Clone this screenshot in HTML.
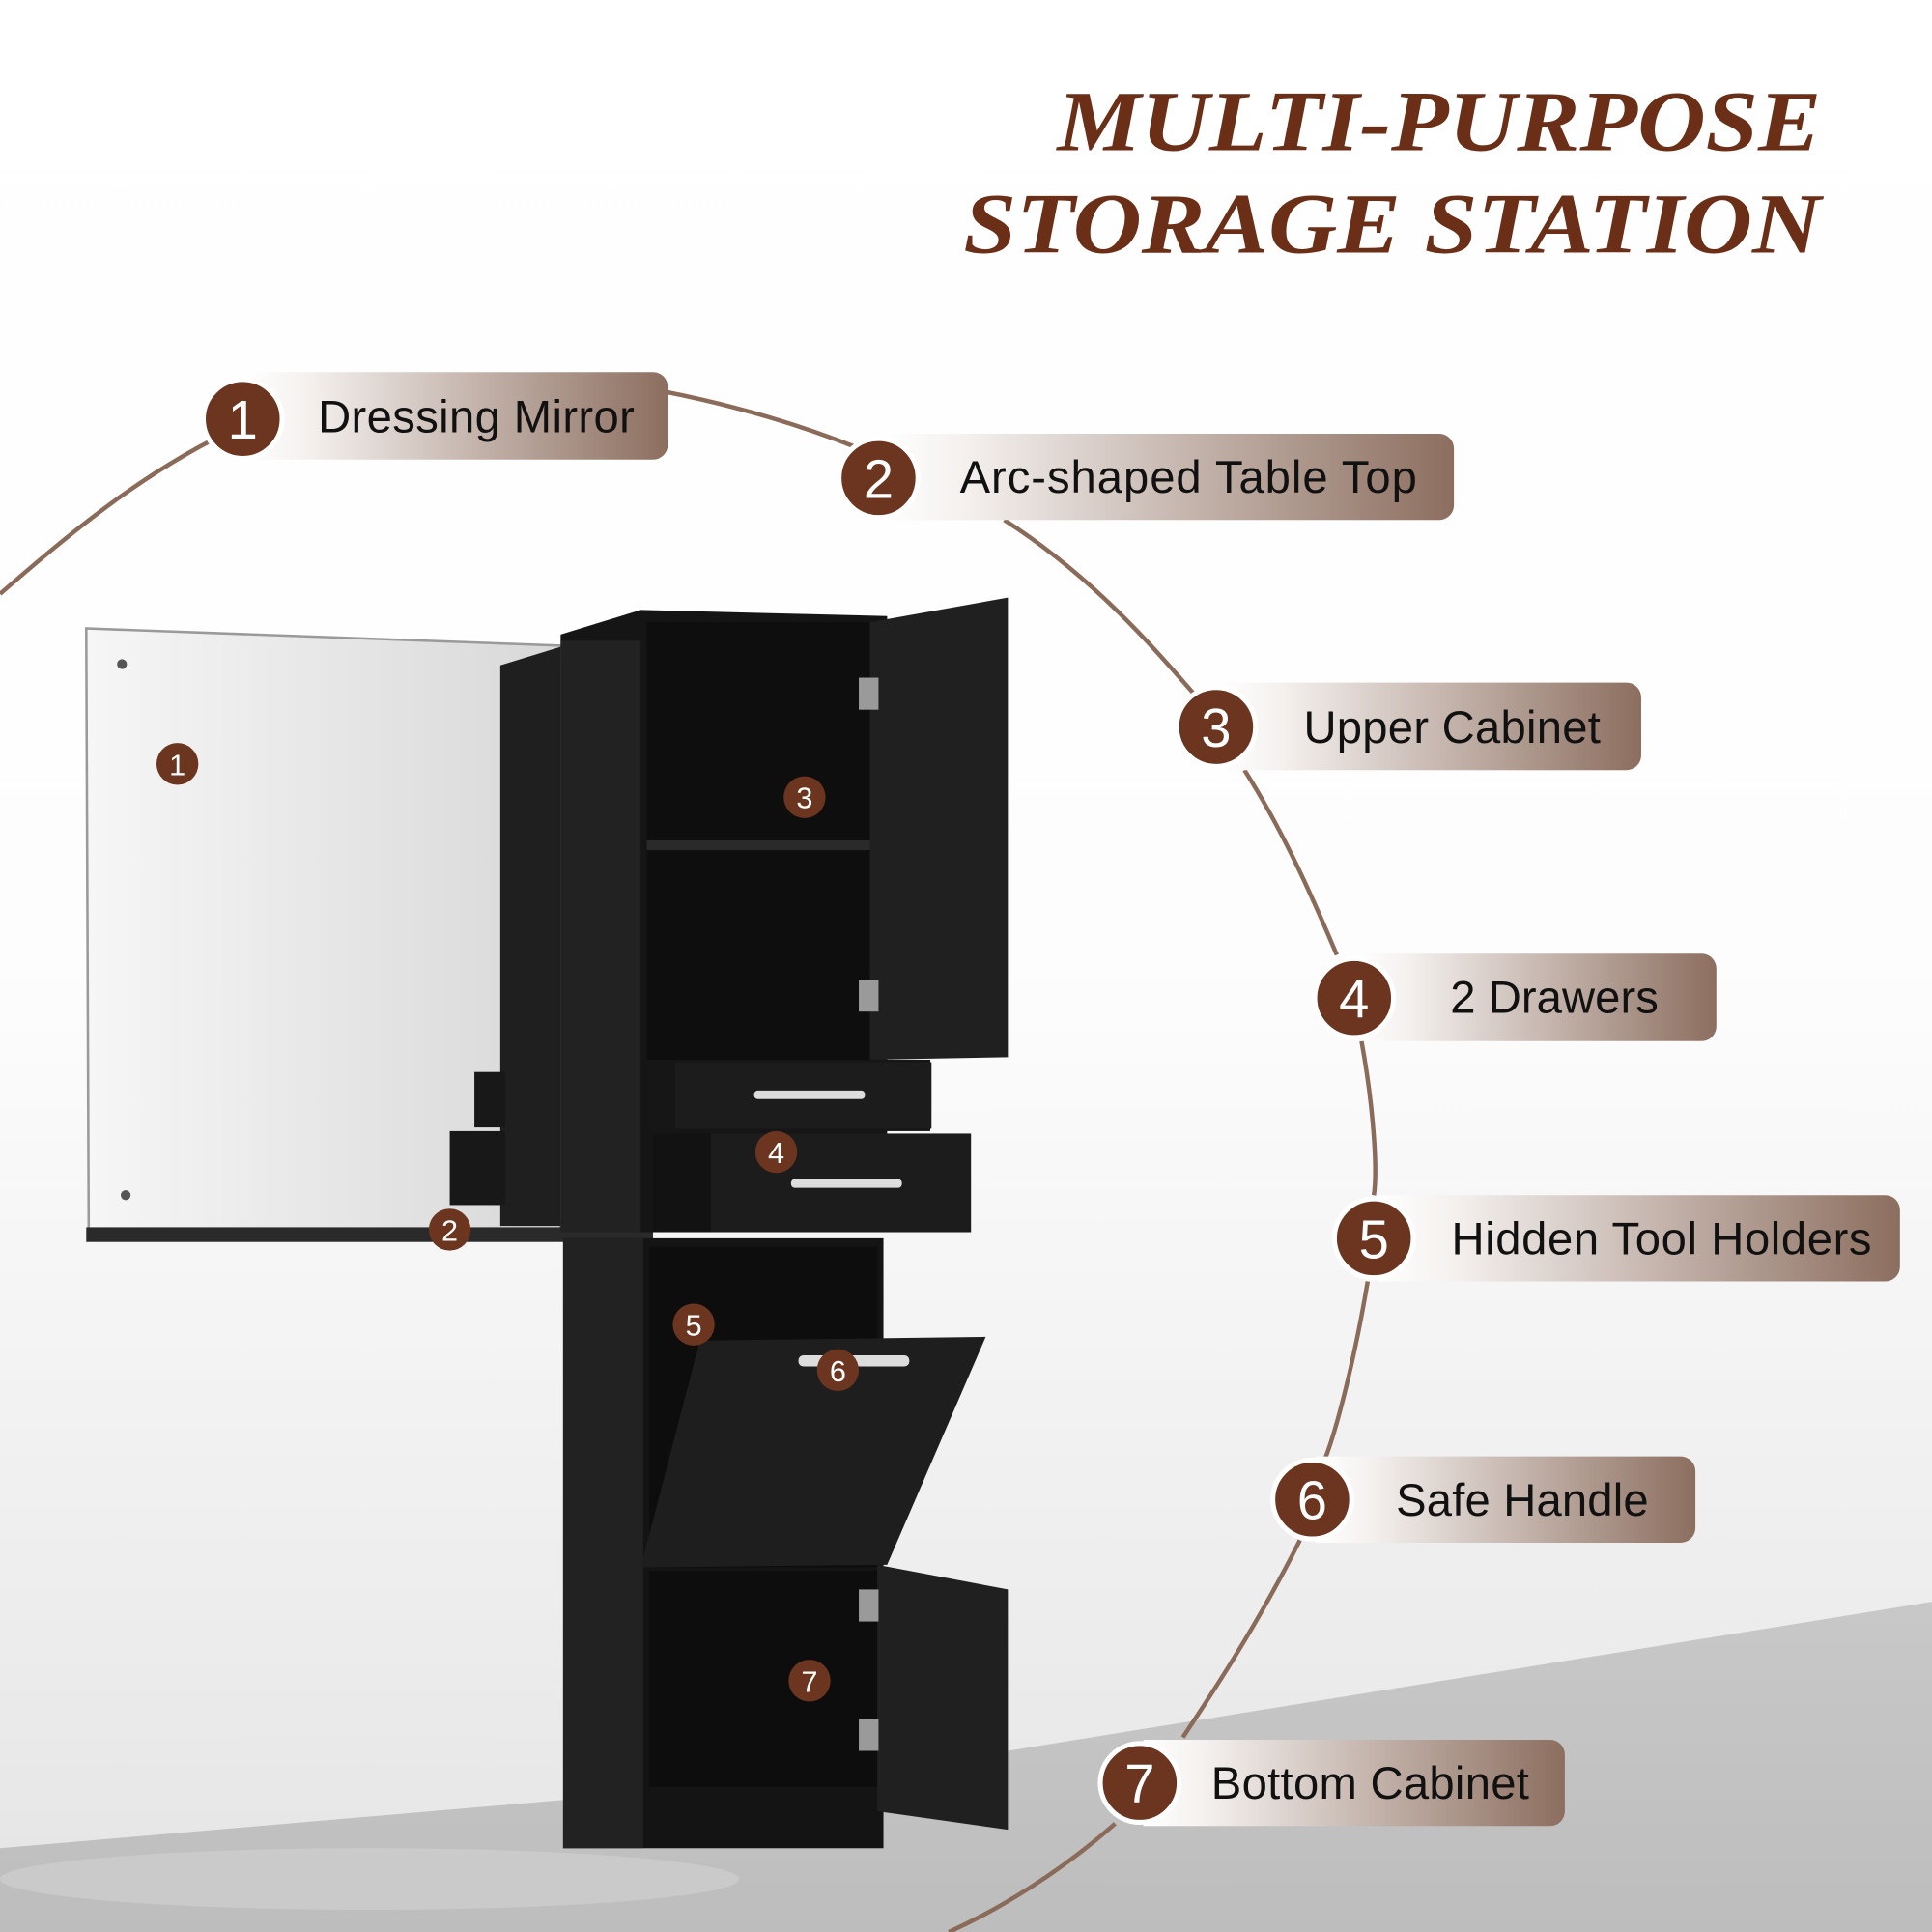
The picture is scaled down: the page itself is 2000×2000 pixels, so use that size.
<!DOCTYPE html>
<html><head><meta charset="utf-8"><style>html,body{margin:0;padding:0;background:#fff}svg{display:block}</style></head>
<body>
<svg width="2000" height="2000" viewBox="0 0 1568 1568" xmlns="http://www.w3.org/2000/svg">
<defs>
<linearGradient id="bg" x1="0" y1="0" x2="0" y2="1">
<stop offset="0" stop-color="#ffffff"/><stop offset="0.5" stop-color="#fdfdfd"/><stop offset="0.85" stop-color="#ececec"/><stop offset="1" stop-color="#e4e4e4"/></linearGradient>
<linearGradient id="pill" x1="0" y1="0" x2="1" y2="0">
<stop offset="0" stop-color="#ffffff"/><stop offset="0.15" stop-color="#f4f0ee"/><stop offset="1" stop-color="#8c6e5f"/></linearGradient>
<linearGradient id="mir" x1="0" y1="0" x2="1" y2="0">
<stop offset="0" stop-color="#f6f6f6"/><stop offset="1" stop-color="#d8d8d8"/></linearGradient>
<linearGradient id="floor" x1="0" y1="0" x2="0" y2="1">
<stop offset="0" stop-color="#c8c8c8"/><stop offset="1" stop-color="#bdbdbd"/></linearGradient>
</defs>
<rect width="1568" height="1568" fill="url(#bg)"/>
<polygon points="1568,1300 1568,1568 0,1568 0,1500 700,1440" fill="url(#floor)"/>
<ellipse cx="300" cy="1525" rx="300" ry="25" fill="#d2d2d2" opacity="0.6"/>

<path d="M0,482 C60,430 120,380 197,345 M540,318 C600,330 650,345 700,365 M815,422 C890,470 940,530 975,570 M1010,625 C1045,680 1070,740 1085,775 M1105,845 C1115,900 1118,950 1115,970 M1110,1040 C1100,1100 1085,1160 1075,1185 M1055,1250 C1020,1320 980,1380 960,1410 M905,1480 C860,1520 810,1550 770,1568" fill="none" stroke="#8a6a58" stroke-width="3.5"/>

<g font-family="'Liberation Serif',serif" font-weight="bold" font-style="italic" font-size="70" fill="#6b2e17">
<text x="858" y="122" textLength="620" lengthAdjust="spacingAndGlyphs">MULTI-PURPOSE</text>
<text x="782" y="205" textLength="696" lengthAdjust="spacingAndGlyphs">STORAGE STATION</text>
</g>

<polygon points="70,510 455,524 455,998 72,1002" fill="url(#mir)" stroke="#9a9a9a" stroke-width="2"/>
<rect x="70" y="996" width="460" height="12" fill="#2a2a2a"/>
<circle cx="99" cy="539" r="4" fill="#555"/><circle cx="102" cy="970" r="4" fill="#555"/>

<polygon points="406,540 455,525 455,995 406,995" fill="#1f1f1f"/>
<polygon points="455,515 520,495 720,500 720,1000 455,1000" fill="#151515"/>
<rect x="455" y="520" width="65" height="480" fill="#222"/>
<rect x="525" y="505" width="185" height="355" fill="#0e0e0e"/>
<rect x="525" y="682" width="185" height="8" fill="#2a2a2a"/>
<polygon points="706,505 818,485 818,858 706,860" fill="#202020"/>
<rect x="697" y="550" width="16" height="26" fill="#9a9a9a"/><rect x="697" y="795" width="16" height="26" fill="#9a9a9a"/>
<rect x="385" y="870" width="25" height="45" fill="#181818"/>
<rect x="365" y="918" width="45" height="60" fill="#181818"/>
<rect x="525" y="860" width="230" height="58" fill="#161616"/>
<rect x="548" y="862" width="208" height="54" fill="#1c1c1c"/>
<rect x="612" y="885" width="90" height="7" rx="3" fill="#ddd"/>
<rect x="530" y="920" width="258" height="80" fill="#121212"/>
<rect x="577" y="920" width="211" height="80" fill="#1c1c1c"/>
<rect x="642" y="957" width="90" height="7" rx="3" fill="#ddd"/>
<rect x="457" y="1005" width="260" height="495" fill="#141414"/>
<rect x="457" y="1005" width="65" height="495" fill="#222"/>
<rect x="527" y="1012" width="185" height="260" fill="#0d0d0d"/>
<polygon points="568,1088 800,1085 720,1270 520,1272" fill="#1e1e1e"/>
<rect x="648" y="1100" width="90" height="9" rx="4" fill="#ddd"/>
<rect x="527" y="1275" width="185" height="175" fill="#0d0d0d"/>
<polygon points="712,1270 818,1290 818,1485 712,1470" fill="#202020"/>
<rect x="697" y="1290" width="16" height="26" fill="#9a9a9a"/><rect x="697" y="1395" width="16" height="26" fill="#9a9a9a"/>

<g fill="#6b3520"><circle cx="144" cy="620" r="17"/><circle cx="365" cy="998" r="17"/><circle cx="653" cy="647" r="17"/><circle cx="630" cy="935" r="17"/><circle cx="563" cy="1075" r="17"/><circle cx="680" cy="1112" r="17"/><circle cx="657" cy="1364" r="17"/></g>
<g font-family="'Liberation Sans',sans-serif" font-size="24" fill="#fff" text-anchor="middle">
<text x="144" y="629">1</text><text x="365" y="1007">2</text><text x="653" y="656">3</text><text x="630" y="944">4</text><text x="563" y="1084">5</text><text x="680" y="1121">6</text><text x="657" y="1373">7</text></g>

<g font-family="'Liberation Sans',sans-serif" font-size="37" fill="#111">
<path d="M200,302 H530 a12,12 0 0 1 12,12 V361 a12,12 0 0 1 -12,12 H200 Z" fill="url(#pill)"/>
<path d="M715,352 H1168 a12,12 0 0 1 12,12 V410 a12,12 0 0 1 -12,12 H715 Z" fill="url(#pill)"/>
<path d="M990,554 H1320 a12,12 0 0 1 12,12 V613 a12,12 0 0 1 -12,12 H990 Z" fill="url(#pill)"/>
<path d="M1100,774 H1381 a12,12 0 0 1 12,12 V833 a12,12 0 0 1 -12,12 H1100 Z" fill="url(#pill)"/>
<path d="M1118,970 H1530 a12,12 0 0 1 12,12 V1028 a12,12 0 0 1 -12,12 H1118 Z" fill="url(#pill)"/>
<path d="M1068,1182 H1364 a12,12 0 0 1 12,12 V1240 a12,12 0 0 1 -12,12 H1068 Z" fill="url(#pill)"/>
<path d="M928,1412 H1258 a12,12 0 0 1 12,12 V1470 a12,12 0 0 1 -12,12 H928 Z" fill="url(#pill)"/>
<text x="258" y="351" textLength="257">Dressing Mirror</text>
<text x="779" y="400" textLength="371">Arc-shaped Table Top</text>
<text x="1058" y="603" textLength="241">Upper Cabinet</text>
<text x="1177" y="822" textLength="169">2 Drawers</text>
<text x="1178" y="1018" textLength="341">Hidden Tool Holders</text>
<text x="1133" y="1230" textLength="205">Safe Handle</text>
<text x="983" y="1460" textLength="258">Bottom Cabinet</text>
</g>
<g fill="#6b3520" stroke="#fff" stroke-width="4">
<circle cx="197" cy="340" r="32"/><circle cx="713" cy="388" r="32"/><circle cx="987" cy="590" r="32"/><circle cx="1099" cy="810" r="32"/><circle cx="1115" cy="1005" r="32"/><circle cx="1065" cy="1217" r="32"/><circle cx="925" cy="1447" r="32"/></g>
<g font-family="'Liberation Sans',sans-serif" font-size="44" fill="#fff" text-anchor="middle">
<text x="197" y="356">1</text><text x="713" y="404">2</text><text x="987" y="606">3</text><text x="1099" y="826">4</text><text x="1115" y="1021">5</text><text x="1065" y="1233">6</text><text x="925" y="1463">7</text></g>
</svg>
</body></html>
